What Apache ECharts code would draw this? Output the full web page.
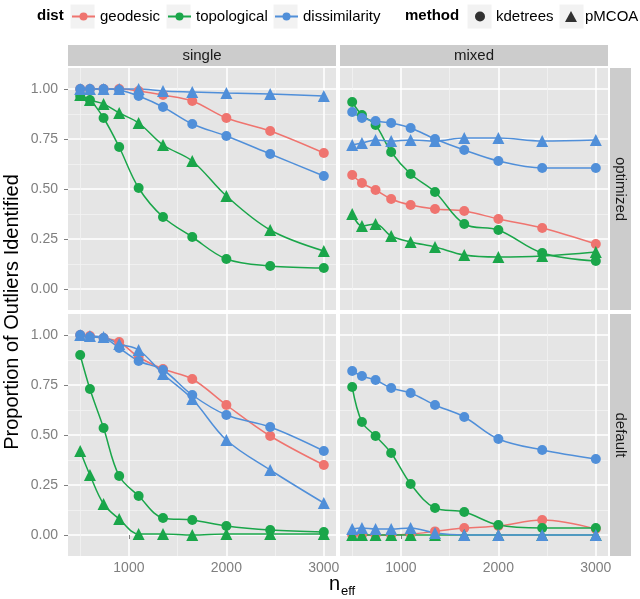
<!DOCTYPE html>
<html><head><meta charset="utf-8">
<script src="https://cdn.jsdelivr.net/npm/echarts@6/dist/echarts.min.js"></script>
<style>html,body{margin:0;padding:0;background:#fff}#c{width:640px;height:599px}</style>
</head><body><div id="c"></div>
<script>
// ---------- data ----------
const nEff = [500, 600, 740, 900, 1100, 1350, 1650, 2000, 2450, 3000];
const xTicks = [1000, 2000, 3000];
const xMinor = [500, 1500, 2500];
const yTicks = [0, 0.25, 0.5, 0.75, 1];
const yMinor = [0.125, 0.375, 0.625, 0.875];
const colCats = ['single', 'mixed'];
const rowCats = ['optimized', 'default'];
const distNames = ['geodesic', 'topological', 'dissimilarity'];
const methodNames = ['kdetrees', 'pMCOA'];

// single / optimized
const optSingleGeoKde  = [1.00, 1.00, 1.00, 1.00, 0.99, 0.97, 0.94, 0.855, 0.79, 0.68];
const optSingleTopoKde = [0.965, 0.945, 0.855, 0.71, 0.505, 0.36, 0.26, 0.15, 0.115, 0.105];
const optSingleTopoPm  = [0.97, 0.945, 0.925, 0.88, 0.83, 0.72, 0.64, 0.465, 0.295, 0.19];
const optSingleDisKde  = [1.00, 1.00, 1.00, 0.995, 0.965, 0.91, 0.825, 0.765, 0.675, 0.565];
const optSingleDisPm   = [1.00, 1.00, 1.00, 1.00, 1.00, 0.99, 0.985, 0.98, 0.975, 0.965];
// mixed / optimized
const optMixedGeoKde  = [0.57, 0.53, 0.495, 0.45, 0.42, 0.40, 0.39, 0.35, 0.305, 0.225];
const optMixedTopoKde = [0.935, 0.87, 0.82, 0.685, 0.575, 0.485, 0.325, 0.295, 0.18, 0.14];
const optMixedTopoPm  = [0.375, 0.315, 0.325, 0.265, 0.235, 0.21, 0.17, 0.16, 0.165, 0.185];
const optMixedDisKde  = [0.885, 0.855, 0.84, 0.83, 0.805, 0.75, 0.695, 0.64, 0.605, 0.605];
const optMixedDisPm   = [0.72, 0.73, 0.745, 0.74, 0.745, 0.74, 0.755, 0.755, 0.74, 0.745];
// single / default
const defSingleGeoKde  = [1.00, 0.995, 0.985, 0.965, 0.89, 0.83, 0.78, 0.65, 0.495, 0.35];
const defSingleTopoKde = [0.90, 0.73, 0.535, 0.295, 0.195, 0.085, 0.075, 0.045, 0.025, 0.015];
const defSingleTopoPm  = [0.42, 0.30, 0.155, 0.08, 0.005, 0.005, 0.0, 0.005, 0.005, 0.005];
const defSingleDisKde  = [1.00, 0.99, 0.985, 0.935, 0.87, 0.825, 0.70, 0.60, 0.54, 0.42];
const defSingleDisPm   = [1.00, 0.995, 0.99, 0.955, 0.925, 0.805, 0.68, 0.475, 0.325, 0.16];
// mixed / default
const defMixedGeoKde  = [0.0, 0.0, 0.0, 0.0, 0.005, 0.018, 0.035, 0.045, 0.075, 0.03];
const defMixedTopoKde = [0.74, 0.565, 0.495, 0.41, 0.255, 0.135, 0.115, 0.05, 0.035, 0.035];
const defMixedTopoPm  = [0, 0, 0, 0, 0, 0, 0, 0, 0, 0];
const defMixedDisKde  = [0.82, 0.795, 0.775, 0.735, 0.71, 0.65, 0.59, 0.48, 0.425, 0.38];
const defMixedDisPm   = [0.03, 0.035, 0.03, 0.03, 0.035, 0.01, 0.0, 0.0, 0.0, 0.0];

// ---------- styling / layout ----------
const F = '"Liberation Sans", Arial, Helvetica, sans-serif';
const distColors = {geodesic: '#EF746F', topological: '#1AA64A', dissimilarity: '#508FD9'};
const methodSymbol = {kdetrees: ['circle', 10], pMCOA: ['triangle', 12]};
const PW = 268, PH = 242;
const colLeft = [68, 340];
const rowTop = [68, 314];

const panels = [
  {row: 0, col: 0, series: [['geodesic','kdetrees',optSingleGeoKde],['topological','kdetrees',optSingleTopoKde],['topological','pMCOA',optSingleTopoPm],['dissimilarity','kdetrees',optSingleDisKde],['dissimilarity','pMCOA',optSingleDisPm]]},
  {row: 0, col: 1, series: [['geodesic','kdetrees',optMixedGeoKde],['topological','kdetrees',optMixedTopoKde],['topological','pMCOA',optMixedTopoPm],['dissimilarity','kdetrees',optMixedDisKde],['dissimilarity','pMCOA',optMixedDisPm]]},
  {row: 1, col: 0, series: [['geodesic','kdetrees',defSingleGeoKde],['topological','kdetrees',defSingleTopoKde],['topological','pMCOA',defSingleTopoPm],['dissimilarity','kdetrees',defSingleDisKde],['dissimilarity','pMCOA',defSingleDisPm]]},
  {row: 1, col: 1, series: [['geodesic','kdetrees',defMixedGeoKde],['topological','kdetrees',defMixedTopoKde],['topological','pMCOA',defMixedTopoPm],['dissimilarity','kdetrees',defMixedDisKde],['dissimilarity','pMCOA',defMixedDisPm]]}
];

const grids = [], xAxes = [], yAxes = [], series = [], graphics = [];
const tickColor = '#7F7F7F';
panels.forEach((p, i) => {
  grids.push({left: colLeft[p.col], top: rowTop[p.row], width: PW, height: PH,
    show: true, backgroundColor: '#E5E5E5', borderWidth: 0});
  // minor axes first (drawn below)
  xAxes.push({gridIndex: i, type: 'value', position: 'top', min: 375, max: 3125,
    axisLine: {show: false}, axisTick: {show: false, customValues: xMinor},
    axisLabel: {show: false, customValues: xMinor},
    splitLine: {show: true, lineStyle: {color: '#F2F2F2', width: 0.8}}});
  xAxes.push({gridIndex: i, type: 'value', position: 'bottom', min: 375, max: 3125,
    axisLine: {show: false},
    axisTick: {show: p.row === 1, length: 4, customValues: xTicks, lineStyle: {color: tickColor, width: 1}},
    axisLabel: {show: p.row === 1, customValues: xTicks, color: tickColor, fontSize: 14, fontFamily: F, margin: 5,
      formatter: v => String(v)},
    splitLine: {show: true, lineStyle: {color: '#FFFFFF', width: 1.5}}});
  yAxes.push({gridIndex: i, type: 'value', position: 'right', min: -0.105, max: 1.105,
    axisLine: {show: false}, axisTick: {show: false, customValues: yMinor},
    axisLabel: {show: false, customValues: yMinor},
    splitLine: {show: true, lineStyle: {color: '#F2F2F2', width: 0.8}}});
  yAxes.push({gridIndex: i, type: 'value', position: 'left', min: -0.105, max: 1.105,
    axisLine: {show: false},
    axisTick: {show: p.col === 0, length: 4, customValues: yTicks, lineStyle: {color: tickColor, width: 1}},
    axisLabel: {show: p.col === 0, customValues: yTicks, color: tickColor, fontSize: 14, fontFamily: F, margin: 10,
      formatter: v => v.toFixed(2)},
    splitLine: {show: true, lineStyle: {color: '#FFFFFF', width: 1.5}}});
  p.series.forEach(s => {
    const [dist, method, vals] = s;
    series.push({
      name: dist, type: 'line', xAxisIndex: 2 * i + 1, yAxisIndex: 2 * i + 1,
      data: nEff.map((x, k) => [x, vals[k]]),
      smooth: 0.35, symbol: methodSymbol[method][0], symbolSize: methodSymbol[method][1],
      showSymbol: true, color: distColors[dist],
      lineStyle: {width: 1.5, color: distColors[dist]},
      itemStyle: {color: distColors[dist]},
      clip: true, silent: true
    });
  });
});
// dummy series for method legend
methodNames.forEach(m => series.push({name: m, type: 'scatter', xAxisIndex: 1, yAxisIndex: 1,
  data: [], symbol: methodSymbol[m][0], itemStyle: {color: '#000'}}));

// strips
colCats.forEach((c, j) => {
  graphics.push({type: 'rect', shape: {x: colLeft[j], y: 45, width: PW, height: 21}, style: {fill: '#CCCCCC'}, silent: true});
  graphics.push({type: 'text', x: colLeft[j] + PW / 2, y: 55.5, style: {text: c, fill: '#1A1A1A', font: '15px ' + F, textAlign: 'center', textVerticalAlign: 'middle'}, silent: true});
});
rowCats.forEach((r, j) => {
  graphics.push({type: 'rect', shape: {x: 610, y: rowTop[j], width: 21, height: PH}, style: {fill: '#CCCCCC'}, silent: true});
  graphics.push({type: 'text', x: 620.5, y: rowTop[j] + PH / 2, rotation: -Math.PI / 2, style: {text: r, fill: '#1A1A1A', font: '15px ' + F, textAlign: 'center', textVerticalAlign: 'middle'}, silent: true});
});
// axis titles
graphics.push({type: 'text', x: 12, y: 312, rotation: Math.PI / 2, style: {text: 'Proportion of Outliers Identified', fill: '#000', font: '20px ' + F, textAlign: 'center', textVerticalAlign: 'middle'}, silent: true});
graphics.push({type: 'text', x: 340, y: 584, style: {text: 'n', fill: '#000', font: '20px ' + F, textAlign: 'right', textVerticalAlign: 'middle'}, silent: true});
graphics.push({type: 'text', x: 341, y: 591, style: {text: 'eff', fill: '#000', font: '13px ' + F, textAlign: 'left', textVerticalAlign: 'middle'}, silent: true});
// legend titles and key backgrounds
graphics.push({type: 'text', x: 37, y: 16, style: {text: 'dist', fill: '#000', font: 'bold 15px ' + F, textAlign: 'left', textVerticalAlign: 'middle'}, silent: true});
graphics.push({type: 'text', x: 405, y: 16, style: {text: 'method', fill: '#000', font: 'bold 15px ' + F, textAlign: 'left', textVerticalAlign: 'middle'}, silent: true});
[70, 166, 273, 467, 559].forEach(x => graphics.push({type: 'rect', z: -1, shape: {x: x, y: 4, width: 25, height: 25}, style: {fill: '#F2F2F2', stroke: '#FFFFFF', lineWidth: 1}, silent: true}));

const legBase = {top: 9, padding: 0, itemHeight: 10, selectedMode: false,
  textStyle: {fontSize: 15, color: '#000', fontFamily: F}};
const legends = [
  Object.assign({}, legBase, {data: ['geodesic'], left: 71, itemWidth: 23}),
  Object.assign({}, legBase, {data: ['topological'], left: 167, itemWidth: 23}),
  Object.assign({}, legBase, {data: ['dissimilarity'], left: 274, itemWidth: 23}),
  Object.assign({}, legBase, {data: [{name: 'kdetrees', icon: 'circle'}], left: 475, itemWidth: 10,
    textStyle: Object.assign({}, legBase.textStyle, {padding: [0, 0, 0, 6]})}),
  Object.assign({}, legBase, {data: [{name: 'pMCOA', icon: 'triangle'}], left: 565, itemWidth: 12, itemHeight: 11,
    textStyle: Object.assign({}, legBase.textStyle, {padding: [0, 0, 0, 3]})})
];

const chart = echarts.init(document.getElementById('c'), null, {renderer: 'canvas'});
chart.setOption({
  animation: false,
  backgroundColor: '#FFFFFF',
  grid: grids, xAxis: xAxes, yAxis: yAxes, series: series,
  legend: legends, graphic: graphics
});
</script></body></html>
